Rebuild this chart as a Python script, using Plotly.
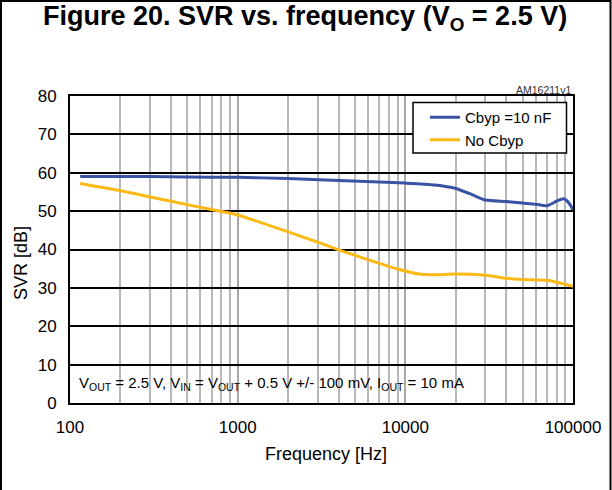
import plotly.graph_objects as go

# ---- data ----
freq_cbyp = [115, 200, 300, 500, 1000, 2000, 4000, 7000, 10000, 15000, 20000, 25000,
             30000, 40000, 50000, 60000, 70000, 80000, 88000, 95000, 100000]
svr_cbyp = [59.0, 59.0, 59.0, 58.9, 58.8, 58.5, 58.0, 57.6, 57.3, 56.8, 55.9, 54.3,
            52.9, 52.5, 52.1, 51.8, 51.4, 52.6, 53.2, 52.0, 50.3]

freq_nocbyp = [115, 200, 300, 500, 800, 1000, 2000, 3000, 4000, 5000, 7000, 9000,
               12000, 15000, 20000, 30000, 40000, 50000, 70000, 85000, 100000]
svr_nocbyp = [57.2, 55.3, 53.7, 51.7, 49.9, 49.0, 44.6, 41.9, 39.9, 38.5, 36.4, 34.9,
              33.6, 33.4, 33.6, 33.3, 32.5, 32.2, 32.0, 31.2, 30.4]

x_tickvals = [100, 1000, 10000, 100000]
x_ticktext = ["100", "1000", "10000", "100000"]
x_minor = [m * d for d in (100, 1000, 10000) for m in range(2, 10)]
y_tickvals = [0, 10, 20, 30, 40, 50, 60, 70, 80]

# ---- geometry ----
W, H = 612, 490
L, R, T, B = 70, 39, 96, 87
PW, PH = W - L - R, H - T - B

def px(xp):
    return (xp - L) / PW

def py(yp):
    return (H - B - yp) / PH

FONT = "Liberation Sans, Arial, Helvetica, sans-serif"

fig = go.Figure()
fig.add_trace(go.Scatter(x=freq_cbyp, y=svr_cbyp, mode="lines", name="Cbyp =10 nF",
                         line=dict(color="#3953a4", width=3, shape="spline", smoothing=0.6)))
fig.add_trace(go.Scatter(x=freq_nocbyp, y=svr_nocbyp, mode="lines", name="No Cbyp",
                         line=dict(color="#fdb913", width=3, shape="spline", smoothing=0.6)))

shapes = [
    # white background behind the conditions note
    dict(type="rect", xref="paper", yref="y", x0=0, x1=px(482), y0=0, y1=10,
         fillcolor="white", line=dict(width=0), layer="between"),
    # legend frame
    dict(type="rect", xref="paper", yref="paper", x0=px(413), x1=px(566.5), y0=py(153), y1=py(102.5),
         fillcolor="white", line=dict(color="black", width=1.5), layer="above"),
    # outer figure frame
    dict(type="rect", xref="paper", yref="paper", x0=px(1), x1=px(610.5), y0=py(496), y1=py(1),
         fillcolor="rgba(0,0,0,0)", line=dict(color="black", width=2), layer="above"),
]

annotations = [
    dict(text="<b>Figure 20. SVR vs. frequency (V<sub>O</sub> = 2.5 V)</b>", xref="paper", yref="paper",
         x=px(305), y=py(18), xanchor="center", yanchor="middle", showarrow=False,
         font=dict(family=FONT, size=27, color="black")),
    dict(text="AM16211v1", xref="paper", yref="paper", x=px(573), y=py(90),
         xanchor="right", yanchor="middle", showarrow=False,
         font=dict(family=FONT, size=10.5, color="#333333")),
    dict(text="V<sub>OUT</sub> = 2.5 V, V<sub>IN</sub> = V<sub>OUT</sub> + 0.5 V +/- 100 mV, I<sub>OUT</sub> = 10 mA",
         xref="paper", yref="paper", x=px(77), y=py(383), xanchor="left", yanchor="middle",
         showarrow=False, font=dict(family=FONT, size=15, color="black")),
    dict(text="SVR [dB]", xref="paper", yref="paper", x=px(21), y=py(263), textangle=-90,
         xanchor="center", yanchor="middle", showarrow=False,
         font=dict(family=FONT, size=18, color="black")),
    dict(text="Frequency [Hz]", xref="paper", yref="paper", x=px(326), y=py(454),
         xanchor="center", yanchor="middle", showarrow=False,
         font=dict(family=FONT, size=18, color="black")),
]

fig.update_layout(
    width=W, height=H,
    margin=dict(l=L, r=R, t=T, b=B, pad=0),
    paper_bgcolor="white", plot_bgcolor="white",
    font=dict(family=FONT, size=16, color="black"),
    showlegend=True,
    legend=dict(x=px(425), y=py(101), xanchor="left", yanchor="top",
                bgcolor="rgba(0,0,0,0)", borderwidth=0,
                font=dict(family=FONT, size=15, color="black"),
                tracegroupgap=0, itemwidth=30),
    shapes=shapes,
    annotations=annotations,
)

fig.update_xaxes(type="log", range=[2, 5], tickvals=x_tickvals, ticktext=x_ticktext,
                 showgrid=True, gridcolor="#a8a8a8", gridwidth=2,
                 minor=dict(tickvals=x_minor, showgrid=True, gridcolor="#b8b8b8", gridwidth=2, ticks=""),
                 showline=True, linecolor="black", linewidth=2, mirror=True,
                 ticks="", ticklabelstandoff=8, tickfont=dict(family=FONT, size=17),
                 zeroline=False, fixedrange=True)
fig.update_yaxes(range=[0, 80], tickvals=y_tickvals,
                 showgrid=True, gridcolor="black", gridwidth=1.5,
                 showline=True, linecolor="black", linewidth=2, mirror=True,
                 ticks="", ticklabelstandoff=8, tickfont=dict(family=FONT, size=17),
                 zeroline=False, fixedrange=True)

fig.write_html("out.html", config={"displayModeBar": False},
               post_script="document.body.style.margin='0';document.body.style.overflow='hidden';")
